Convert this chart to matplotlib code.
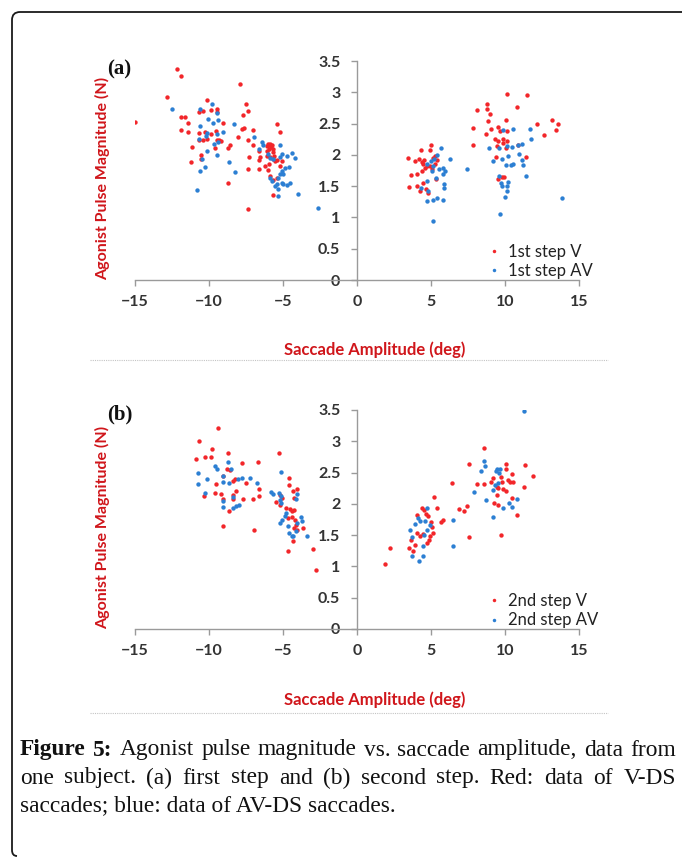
import numpy as np
import matplotlib
matplotlib.use("Agg")
import matplotlib.pyplot as plt
from matplotlib.lines import Line2D
from matplotlib.path import Path
from matplotlib.patches import PathPatch
from matplotlib.ticker import MultipleLocator, FuncFormatter

# ---- data (saccade amplitude deg, pulse magnitude N)
a_v = [(-15.0, 2.53), (-12.14, 3.37), (-11.89, 3.26), (-12.86, 2.93), (-11.91, 2.61), (-11.62, 2.61),
       (-11.44, 2.51), (-11.91, 2.40), (-11.44, 2.36), (-11.17, 2.13), (-11.22, 1.89), (-10.70, 2.68),
       (-10.43, 2.70), (-10.16, 2.87), (-10.70, 2.35), (-10.70, 2.23), (-10.38, 2.23), (-10.25, 2.37),
       (-10.11, 2.26), (-10.54, 2.00), (-10.52, 1.94), (-9.87, 2.71), (-9.48, 2.73), (-9.44, 2.68),
       (-9.48, 2.23), (-9.30, 2.23), (-9.21, 2.22), (-9.87, 2.33), (-9.5, 2.38), (-9.03, 2.51),
       (-9.6, 2.11), (-8.7, 2.11), (-8.6, 2.15), (-8.72, 1.55), (-7.91, 3.13), (-7.50, 2.82),
       (-7.34, 2.70), (-7.68, 2.63), (-7.64, 2.43), (-7.80, 2.42), (-8.02, 2.29), (-7.34, 2.24),
       (-7.01, 2.40), (-7.39, 1.77), (-7.28, 1.96), (-7.34, 1.14), (-7.01, 2.16), (-6.6, 1.92),
       (-6.1, 2.14), (-6.0, 2.17), (-5.9, 2.16), (-5.8, 2.13), (-5.7, 2.09), (-5.65, 2.04),
       (-5.95, 2.10), (-5.85, 2.18), (-5.75, 2.15), (-6.05, 2.06), (-5.6, 1.98), (-5.38, 2.50),
       (-5.2, 2.36), (-6.6, 2.06), (-6.55, 1.96), (-6.6, 1.77), (-6.2, 1.82), (-6.0, 1.76),
       (-5.85, 1.66), (-5.65, 1.60), (-5.43, 1.63), (-5.65, 1.93), (-5.54, 1.90), (-5.65, 1.36),
       (-5.2, 1.82), (-5.92, 1.86), (-5.4, 1.92), (-5.1, 1.90), (-6.1, 1.98), (-5.9, 1.96),
       (3.47, 1.95), (4.32, 2.07), (4.98, 2.16), (4.93, 2.07), (3.92, 1.90), (4.21, 1.93),
       (4.48, 1.85), (4.59, 1.79), (4.37, 1.74), (4.71, 1.82), (4.93, 1.82), (5.16, 1.95),
       (5.27, 1.98), (5.38, 1.91), (5.27, 1.85), (5.04, 1.77), (3.63, 1.68), (4.03, 1.69),
       (4.48, 1.55), (3.54, 1.48), (4.03, 1.50), (4.26, 1.43), (4.64, 1.46), (4.82, 1.39),
       (5.34, 1.61), (4.4, 1.88), (4.55, 1.92),
       (10.16, 2.98), (11.51, 2.95), (8.76, 2.82), (10.79, 2.77), (8.08, 2.72), (8.76, 2.74),
       (8.98, 2.66), (8.87, 2.54), (7.86, 2.43), (8.69, 2.34), (9.03, 2.42), (9.55, 2.44),
       (9.66, 2.38), (10.04, 2.56), (10.11, 2.38), (12.14, 2.49), (13.15, 2.55), (13.56, 2.50),
       (13.44, 2.39), (12.66, 2.32), (7.86, 2.15), (9.32, 2.25), (9.55, 2.22), (9.88, 2.26),
       (10.11, 2.22), (9.84, 2.19), (9.44, 2.14), (10.04, 2.11), (10.9, 2.15), (11.42, 1.96),
       (9.39, 1.96), (9.50, 1.61), (9.77, 1.65), (9.93, 1.65)]

a_av = [(-12.52, 2.74), (-10.83, 1.44), (-10.6, 2.73), (-10.6, 2.46), (-10.7, 2.25), (-10.5, 1.94),
        (-10.6, 1.74), (-10.27, 1.81), (-10.11, 2.06), (-10.2, 2.30), (-10.11, 2.35), (-10.07, 2.57),
        (-9.82, 2.82), (-9.71, 2.51), (-9.48, 2.67), (-9.37, 2.55), (-9.08, 2.37), (-9.48, 2.33),
        (-9.66, 2.17), (-9.48, 1.99), (-9.37, 2.20), (-8.31, 2.50), (-8.25, 1.73), (-8.63, 1.88),
        (-6.99, 2.28), (-6.6, 2.10), (-6.35, 2.16), (-6.45, 2.21), (-5.88, 1.95), (-6.0, 2.01),
        (-5.65, 1.93), (-5.2, 2.16), (-5.2, 1.96), (-5.09, 2.01), (-4.75, 1.98), (-4.4, 2.03),
        (-4.18, 1.95), (-4.86, 1.79), (-5.09, 1.74), (-5.2, 1.69), (-4.98, 1.69), (-5.32, 1.63),
        (-5.88, 1.63), (-5.77, 1.58), (-5.54, 1.50), (-5.43, 1.53), (-5.09, 1.55), (-5.32, 1.45),
        (-5.32, 1.34), (-4.98, 1.53), (-4.75, 1.52), (-4.53, 1.55), (-4.57, 1.80), (-4.0, 1.38),
        (-2.66, 1.15),
        (5.67, 2.11), (5.43, 1.99), (5.2, 1.94), (6.28, 1.94), (4.98, 1.90), (4.71, 1.86),
        (5.16, 1.82), (5.56, 1.77), (5.83, 1.79), (5.95, 1.74), (5.04, 1.74), (5.83, 1.69),
        (5.34, 1.63), (4.75, 1.58), (4.32, 1.47), (5.88, 1.54), (5.88, 1.47), (4.82, 1.42),
        (5.38, 1.31), (5.16, 1.28), (4.71, 1.27), (5.83, 1.28), (5.11, 0.94), (7.41, 1.78),
        (9.88, 2.40), (10.56, 2.42), (11.69, 2.42), (11.73, 2.26), (11.17, 2.18), (10.9, 2.16),
        (10.45, 2.13), (10.11, 2.14), (8.94, 2.11), (9.62, 2.11), (9.77, 1.93), (10.22, 1.98),
        (10.94, 2.01), (11.17, 1.92), (9.21, 1.90), (10.04, 1.84), (10.4, 1.83), (10.56, 1.85),
        (11.24, 1.84), (11.42, 1.66), (9.62, 1.66), (9.71, 1.55), (9.77, 1.50), (10.22, 1.57),
        (10.16, 1.50), (10.11, 1.42), (10.0, 1.33), (9.66, 1.05), (13.83, 1.31)]

b_v = [(-10.88, 2.72), (-10.65, 3.01), (-10.27, 2.75), (-9.82, 2.87), (-9.87, 2.75), (-9.37, 3.22),
       (-9.53, 2.31), (-9.6, 2.18), (-10.34, 2.13), (-9.19, 2.15), (-9.03, 2.08), (-8.69, 2.82),
       (-8.81, 2.55), (-8.58, 2.54), (-9.08, 2.44), (-8.36, 2.37), (-8.24, 2.39), (-8.18, 2.21),
       (-8.4, 2.14), (-8.36, 2.08), (-8.65, 1.89), (-9.03, 1.65), (-7.75, 2.66), (-7.5, 2.33),
       (-7.73, 2.08), (-7.05, 2.08), (-6.67, 2.67), (-6.6, 2.23), (-6.6, 2.12), (-6.94, 1.59),
       (-5.25, 2.82), (-5.47, 2.03), (-5.2, 2.14), (-5.09, 2.10), (-5.2, 1.98), (-4.6, 2.41),
       (-4.57, 2.30), (-4.35, 2.21), (-4.08, 2.23), (-4.23, 2.09), (-4.8, 1.93), (-4.53, 1.91),
       (-4.37, 1.88), (-4.24, 1.90), (-4.42, 1.79), (-4.64, 1.77), (-4.19, 1.74), (-4.12, 1.66),
       (-4.26, 1.62), (-4.08, 1.59), (-3.63, 1.62), (-4.35, 1.41), (-4.64, 1.25), (-3.0, 1.28),
       (-2.8, 0.94),
       (1.89, 1.04), (2.23, 1.29), (3.54, 1.29), (3.81, 1.24), (3.63, 1.42), (3.92, 1.34),
       (4.03, 1.82), (4.37, 1.93), (4.55, 1.90), (4.66, 1.84), (4.82, 1.80), (5.0, 1.71),
       (5.04, 1.63), (5.11, 1.54), (4.93, 1.49), (4.89, 1.42), (4.71, 1.37), (4.26, 1.48),
       (4.44, 1.52), (4.03, 1.54), (5.22, 2.11), (5.38, 1.93), (5.65, 1.71), (5.83, 1.74),
       (6.4, 2.33), (6.89, 1.91), (7.23, 1.89), (7.45, 1.96), (7.59, 2.64), (7.59, 1.47),
       (8.58, 2.90), (8.13, 2.32), (8.58, 2.32), (9.03, 2.35), (9.21, 2.42), (9.71, 2.43),
       (10.07, 2.64), (10.07, 2.55), (10.45, 2.48), (10.22, 2.38), (10.34, 2.35), (10.56, 2.35),
       (9.77, 2.35), (9.48, 2.27), (9.55, 2.25), (9.88, 2.23), (10.07, 2.21), (9.44, 2.14),
       (10.45, 2.09), (11.35, 2.62), (11.91, 2.45), (11.3, 2.27), (9.26, 2.01), (9.55, 1.98),
       (10.83, 1.82), (9.73, 1.50)]

b_av = [(-10.72, 2.49), (-10.72, 2.31), (-10.11, 2.39), (-10.27, 2.17), (-9.6, 2.60), (-9.44, 2.56),
        (-9.03, 2.45), (-9.03, 2.35), (-8.69, 2.67), (-8.63, 2.33), (-8.54, 2.55), (-8.02, 2.39),
        (-7.8, 2.41), (-7.23, 2.42), (-6.74, 2.34), (-8.4, 2.11), (-9.03, 2.04), (-9.03, 1.95),
        (-8.4, 1.94), (-8.18, 1.96), (-7.96, 1.98), (-5.81, 2.19), (-5.7, 2.16), (-5.25, 2.18),
        (-5.16, 2.51), (-5.16, 2.12), (-5.2, 2.06), (-5.14, 2.02), (-5.2, 1.69), (-5.09, 1.75),
        (-4.87, 1.80), (-4.77, 1.86), (-4.64, 1.64), (-4.6, 1.53), (-4.42, 1.48), (-4.12, 1.56),
        (-4.08, 1.70), (-3.79, 1.79), (-3.74, 1.73), (-4.08, 2.16), (-4.12, 2.07), (-3.4, 1.48),
        (-4.3, 1.48),
        (4.71, 1.94), (4.14, 1.78), (3.92, 1.68), (3.58, 1.59), (4.26, 1.72), (4.59, 1.73),
        (4.71, 1.58), (3.69, 1.47), (4.53, 1.50), (4.48, 1.32), (3.69, 1.16), (4.19, 1.08),
        (4.48, 1.17), (4.93, 1.66), (6.46, 1.33), (6.46, 1.75), (7.9, 2.19), (8.36, 2.52),
        (8.6, 2.68), (8.67, 2.60), (8.72, 2.06), (9.17, 1.79), (9.21, 2.22), (9.39, 2.52),
        (9.44, 2.56), (9.66, 2.55), (9.62, 2.49), (9.32, 2.30), (9.55, 2.33), (9.88, 1.94),
        (10.29, 2.02), (10.5, 1.95), (10.83, 2.07), (11.28, 3.49)]

panel_tags = ["(a)", "(b)"]
legend_labels = [["1st step V", "1st step AV"], ["2nd step V", "2nd step AV"]]
xlabel = "Saccade Amplitude (deg)"
ylabel = "Agonist Pulse Magnitude (N)"
caption = [
    [("Figure", True), ("5:", True)] + [(w, False) for w in
     "Agonist pulse magnitude vs. saccade amplitude, data from".split()],
    [(w, False) for w in "one subject. (a) first step and (b) second step. Red: data of V-DS".split()],
    [("saccades; blue: data of AV-DS saccades.", False)],
]

# ---- styling
RED = "#f2262a"
BLUE = "#2c7fd3"
TITLE_RED = "#d0161b"
TICK_COLOR = "#333333"
AXIS_COLOR = "#9a9a9a"
SANS = ["Lato", "DejaVu Sans"]
SERIF = ["Liberation Serif", "DejaVu Serif"]

W, H = 683, 858
fig = plt.figure(figsize=(W / 100, H / 100), dpi=100)


def fx(px):
    return px / W


def fy(py):
    return 1 - py / H


# axes boxes in pixels: x=-15 at 135, x=15 at 579; y=0 / y=3.5
boxes = [(135, 280, 61), (135, 629, 410)]
series = [(a_v, a_av), (b_v, b_av)]
legend_rows = [254, 603]
xlabel_y = [350, 700]
ylabel_y = [178, 527]
tag_y = [69, 414]
sep_y = [360, 713]

for i, (left, y0, y35) in enumerate(boxes):
    ax = fig.add_axes([fx(left), fy(y0), (579 - left) / W, (y0 - y35) / H])
    v, av = (np.array(s) for s in series[i])
    ax.scatter(v[:, 0], v[:, 1], s=10, color=RED, linewidths=0, zorder=3)
    ax.scatter(av[:, 0], av[:, 1], s=10, color=BLUE, linewidths=0, zorder=3)
    ax.set_xlim(-15, 15)
    ax.set_ylim(0, 3.5)
    for side in ["top", "right"]:
        ax.spines[side].set_visible(False)
    ax.spines["left"].set_position(("data", 0))
    ax.spines["bottom"].set_position(("data", 0))
    for side in ["left", "bottom"]:
        ax.spines[side].set_color(AXIS_COLOR)
        ax.spines[side].set_linewidth(1.0)
    ax.xaxis.set_major_locator(MultipleLocator(5))
    ax.yaxis.set_major_locator(MultipleLocator(0.5))
    ax.yaxis.set_major_formatter(FuncFormatter(lambda val, pos: f"{val:g}"))
    ax.tick_params(axis="x", direction="out", length=4, width=1, color=AXIS_COLOR,
                   pad=7, labelsize=11.5, labelcolor=TICK_COLOR)
    ax.tick_params(axis="y", direction="out", length=4, width=1, color=AXIS_COLOR,
                   pad=8, labelsize=11.5, labelcolor=TICK_COLOR)
    for lab in ax.get_xticklabels() + ax.get_yticklabels():
        lab.set_family(SANS)
        lab.set_fontweight("bold")
    ax.patch.set_visible(False)

    handles = [Line2D([], [], ls="", marker="o", ms=2.5, color=RED, mew=0),
               Line2D([], [], ls="", marker="o", ms=2.5, color=BLUE, mew=0)]
    leg = ax.legend(handles, legend_labels[i], loc="upper left", frameon=False,
                    bbox_to_anchor=(fx(490), fy(legend_rows[i] - 10)),
                    bbox_transform=fig.transFigure, borderpad=0, borderaxespad=0,
                    handlelength=0.5, handletextpad=0.6, labelspacing=0.2,
                    prop={"family": SANS, "size": 12})
    for t in leg.get_texts():
        t.set_color("#222222")

    fig.text(fx(375), fy(xlabel_y[i]), xlabel, ha="center", va="center",
             color=TITLE_RED, fontsize=12, family=SANS, fontweight="bold")
    fig.text(fx(103), fy(ylabel_y[i]), ylabel, ha="center", va="center", rotation=90,
             color=TITLE_RED, fontsize=11.5, family=SANS, fontweight="bold")
    fig.text(fx(107), fy(tag_y[i]), panel_tags[i], ha="left", va="center",
             fontsize=15, family=SERIF, fontweight="bold", color="#111111")
    fig.add_artist(Line2D([fx(90), fx(608)], [fy(sep_y[i])] * 2, ls=(0, (1, 1)),
                          color="#c4c4c4", lw=0.8))

# ---- caption, justified like the page
renderer = fig.canvas.get_renderer()
cap_left, cap_right = 20, 676
cap_rows = [750, 778, 806]
for row, words in enumerate(caption):
    texts = [fig.text(0, fy(cap_rows[row]), w, fontsize=16.8, family=SERIF,
                      fontweight="bold" if b else "normal", va="center", ha="left",
                      color="#111111") for w, b in words]
    widths = [t.get_window_extent(renderer).width for t in texts]
    gap = (cap_right - cap_left - sum(widths)) / max(len(texts) - 1, 1)
    pos = cap_left
    for t, w in zip(texts, widths):
        t.set_x(fx(pos))
        pos += w + gap

# ---- page frame: top rule and left rule with rounded corners
verts = [(682, 12), (20, 12), (12, 12), (12, 20), (12, 850), (12, 856), (17, 856)]
codes = [Path.MOVETO, Path.LINETO, Path.CURVE3, Path.CURVE3, Path.LINETO, Path.CURVE3, Path.CURVE3]
frame = Path([(fx(x), fy(y)) for x, y in verts], codes)
fig.add_artist(PathPatch(frame, fill=False, edgecolor="#1a1a1a", lw=1.3,
                         transform=fig.transFigure))

fig.savefig("out.png", dpi=100)
